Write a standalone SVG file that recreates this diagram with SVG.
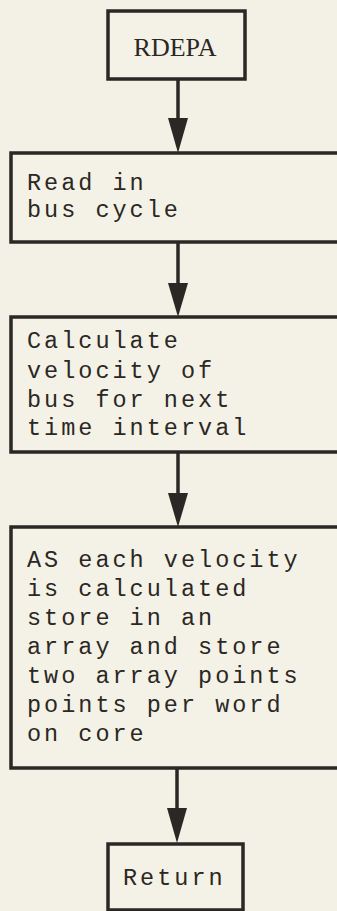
<svg xmlns="http://www.w3.org/2000/svg" width="337" height="911" viewBox="0 0 337 911">
<defs>
<style>
.bg{fill:#f3f1e5}
.box{fill:#f4f2e6;stroke:#2b2724;stroke-width:3.5}
.edge{stroke:#2b2724;stroke-width:3.5;fill:none}
.head{fill:#2b2724}
.mono{font-family:"Liberation Mono","DejaVu Sans Mono",monospace;font-size:23.5px;letter-spacing:3px;fill:#2b2724}
.serif{font-family:"Liberation Serif","DejaVu Serif",serif;font-size:26px;fill:#2b2724}
</style>
</defs>
<rect class="bg" x="0" y="0" width="337" height="911"/>
<g id="edges">
<line class="edge" x1="178" y1="80" x2="178" y2="125"/>
<polygon class="head" points="168,118 188,118 178,153"/>
<line class="edge" x1="178" y1="243" x2="178" y2="290"/>
<polygon class="head" points="168,283 188,283 178,317"/>
<line class="edge" x1="178" y1="453" x2="178" y2="500"/>
<polygon class="head" points="168,493 188,493 178,527"/>
<line class="edge" x1="177" y1="768" x2="177" y2="815"/>
<polygon class="head" points="167,808 187,808 177,843"/>
</g>
<g id="rdepa">
<rect class="box" x="108" y="11" width="137" height="68"/>
<text class="serif" x="175" y="56" text-anchor="middle">RDEPA</text>
</g>
<g id="read">
<rect class="box" x="11" y="153" width="330" height="89"/>
<text class="mono" x="27" y="190">Read in</text>
<text class="mono" x="27" y="217">bus cycle</text>
</g>
<g id="calc">
<rect class="box" x="11" y="317" width="330" height="135"/>
<text class="mono" x="27" y="348">Calculate</text>
<text class="mono" x="27" y="378">velocity of</text>
<text class="mono" x="27" y="407">bus for next</text>
<text class="mono" x="27" y="435">time interval</text>
</g>
<g id="store">
<rect class="box" x="11" y="527" width="330" height="241"/>
<text class="mono" x="27" y="567">AS each velocity</text>
<text class="mono" x="27" y="596">is calculated</text>
<text class="mono" x="27" y="625">store in an</text>
<text class="mono" x="27" y="654">array and store</text>
<text class="mono" x="27" y="683">two array points</text>
<text class="mono" x="27" y="712">points per word</text>
<text class="mono" x="27" y="741">on core</text>
</g>
<g id="return">
<rect class="box" x="108" y="844" width="135" height="66"/>
<text class="mono" x="123" y="885">Return</text>
</g>
</svg>
